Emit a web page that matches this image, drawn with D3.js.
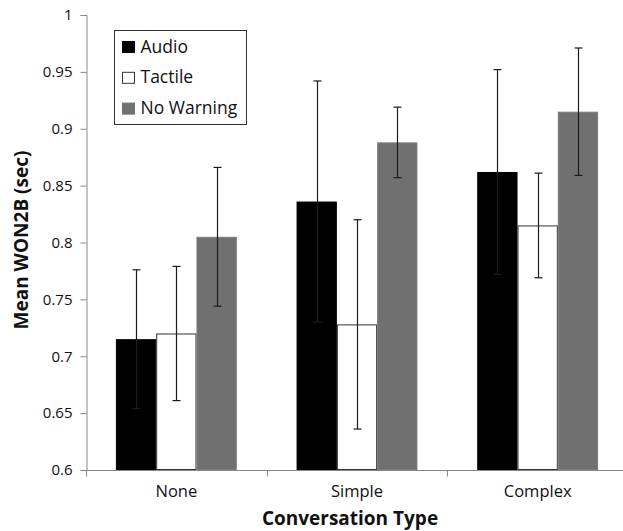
<!DOCTYPE html>
<html>
<head>
<meta charset="utf-8">
<script src="https://cdn.jsdelivr.net/npm/d3@7"></script>
<style>
  body { margin: 0; background: #fff; }
  text { font-family: "Open Sans", "DejaVu Sans", sans-serif; fill: #111; }
</style>
</head>
<body>
<div id="chart"></div>
<script>
// chart values
var categories = ["None", "Simple", "Complex"];
var series = ["Audio", "Tactile", "No Warning"];
var audio = [0.715, 0.836, 0.862];
var tactile = [0.720, 0.728, 0.815];
var noWarning = [0.805, 0.888, 0.915];
var audioErr = [0.061, 0.106, 0.090];
var tactileErr = [0.059, 0.092, 0.046];
var noWarningErr = [0.061, 0.031, 0.056];
var yTicks = [0.6, 0.65, 0.7, 0.75, 0.8, 0.85, 0.9, 0.95, 1];

var colors = ["#000000", "#ffffff", "#707070"];
var strokes = ["#000000", "#333333", "#7a7a7a"];

var width = 623, height = 531;
var plotL = 86, plotR = 628, plotT = 15, plotB = 470;

var svg = d3.select('#chart').append('svg').attr('width', width).attr('height', height);

var x = d3.scaleBand().domain(categories).range([plotL, plotR]).paddingInner(0).paddingOuter(0);
var xs = d3.scaleBand().domain(series).range([0, x.bandwidth()]).paddingInner(0).paddingOuter(0.742);
var y = d3.scaleLinear().domain([0.6, 1]).range([plotB, plotT]);

// build rows
var values = [audio, tactile, noWarning];
var errs = [audioErr, tactileErr, noWarningErr];
var rows = [];
categories.forEach(function(c, i) {
  series.forEach(function(s, j) {
    rows.push({cat: c, ser: s, j: j, v: values[j][i], e: errs[j][i]});
  });
});

// bars
svg.append('g').selectAll('rect').data(rows).enter().append('rect')
  .attr('x', function(d) { return x(d.cat) + xs(d.ser) + 0.5; })
  .attr('y', function(d) { return y(d.v) + 0.5; })
  .attr('width', xs.bandwidth() - 1)
  .attr('height', function(d) { return plotB - y(d.v) - 1; })
  .attr('fill', function(d) { return colors[d.j]; })
  .attr('stroke', function(d) { return strokes[d.j]; })
  .attr('stroke-width', 1);

// error bars
var eb = svg.append('g').attr('stroke', '#1c1c1c').attr('stroke-width', 1.2);
rows.forEach(function(d) {
  var cx = Math.round(x(d.cat) + xs(d.ser) + xs.bandwidth() / 2) + 0.5;
  var y1 = y(d.v + d.e), y2 = y(d.v - d.e);
  eb.append('line').attr('x1', cx).attr('x2', cx).attr('y1', y1).attr('y2', y2);
  eb.append('line').attr('x1', cx - 4).attr('x2', cx + 4).attr('y1', y1).attr('y2', y1);
  eb.append('line').attr('x1', cx - 4).attr('x2', cx + 4).attr('y1', y2).attr('y2', y2);
});

// y axis
var yAxis = svg.append('g').attr('transform', 'translate(' + (plotL + 0.5) + ',0)')
  .call(d3.axisLeft(y).tickValues(yTicks).tickSize(6).tickPadding(8)
    .tickFormat(function(d) { return String(+d.toFixed(2)); }));
yAxis.select('.domain').attr('stroke', '#888');
yAxis.selectAll('.tick line').attr('stroke', '#888');
yAxis.selectAll('.tick text').style('font-size', '15px').attr('fill', '#111')
  .style('font-family', '"Open Sans", sans-serif');

// x axis
var xAxis = svg.append('g').attr('transform', 'translate(0,' + (plotB + 0.5) + ')');
xAxis.append('line').attr('x1', plotL).attr('x2', plotR).attr('stroke', '#888');
xAxis.selectAll('.bt').data(categories.concat(['end'])).enter().append('line')
  .attr('x1', function(d, i) { return Math.round(plotL + i * x.step()) + 0.5; })
  .attr('x2', function(d, i) { return Math.round(plotL + i * x.step()) + 0.5; })
  .attr('y1', 0).attr('y2', 6).attr('stroke', '#888');
xAxis.selectAll('.lbl').data(categories).enter().append('text')
  .attr('x', function(d) { return x(d) + x.bandwidth() / 2; })
  .attr('y', 26.5)
  .attr('text-anchor', 'middle')
  .style('font-size', '16.5px')
  .text(function(d) { return d; });

// axis titles
svg.append('text')
  .attr('x', 350).attr('y', 525)
  .attr('text-anchor', 'middle')
  .style('font-size', '19px').style('font-weight', 'bold')
  .text('Conversation Type');
svg.append('text')
  .attr('transform', 'translate(28,240) rotate(-90)')
  .attr('text-anchor', 'middle')
  .style('font-size', '19px').style('font-weight', 'bold')
  .text('Mean WON2B (sec)');

// legend
var lg = svg.append('g');
lg.append('rect').attr('x', 114.5).attr('y', 30.5).attr('width', 132).attr('height', 94)
  .attr('fill', '#fff').attr('stroke', '#333');
series.forEach(function(s, j) {
  var by = 52.5 + j * 30.8;
  lg.append('rect').attr('x', 122.5).attr('y', by - 11).attr('width', 12).attr('height', 11)
    .attr('fill', colors[j]).attr('stroke', j == 1 ? '#333' : colors[j]);
  lg.append('text').attr('x', 140.5).attr('y', by).style('font-size', '17.5px').text(s);
});
</script>
</body>
</html>
